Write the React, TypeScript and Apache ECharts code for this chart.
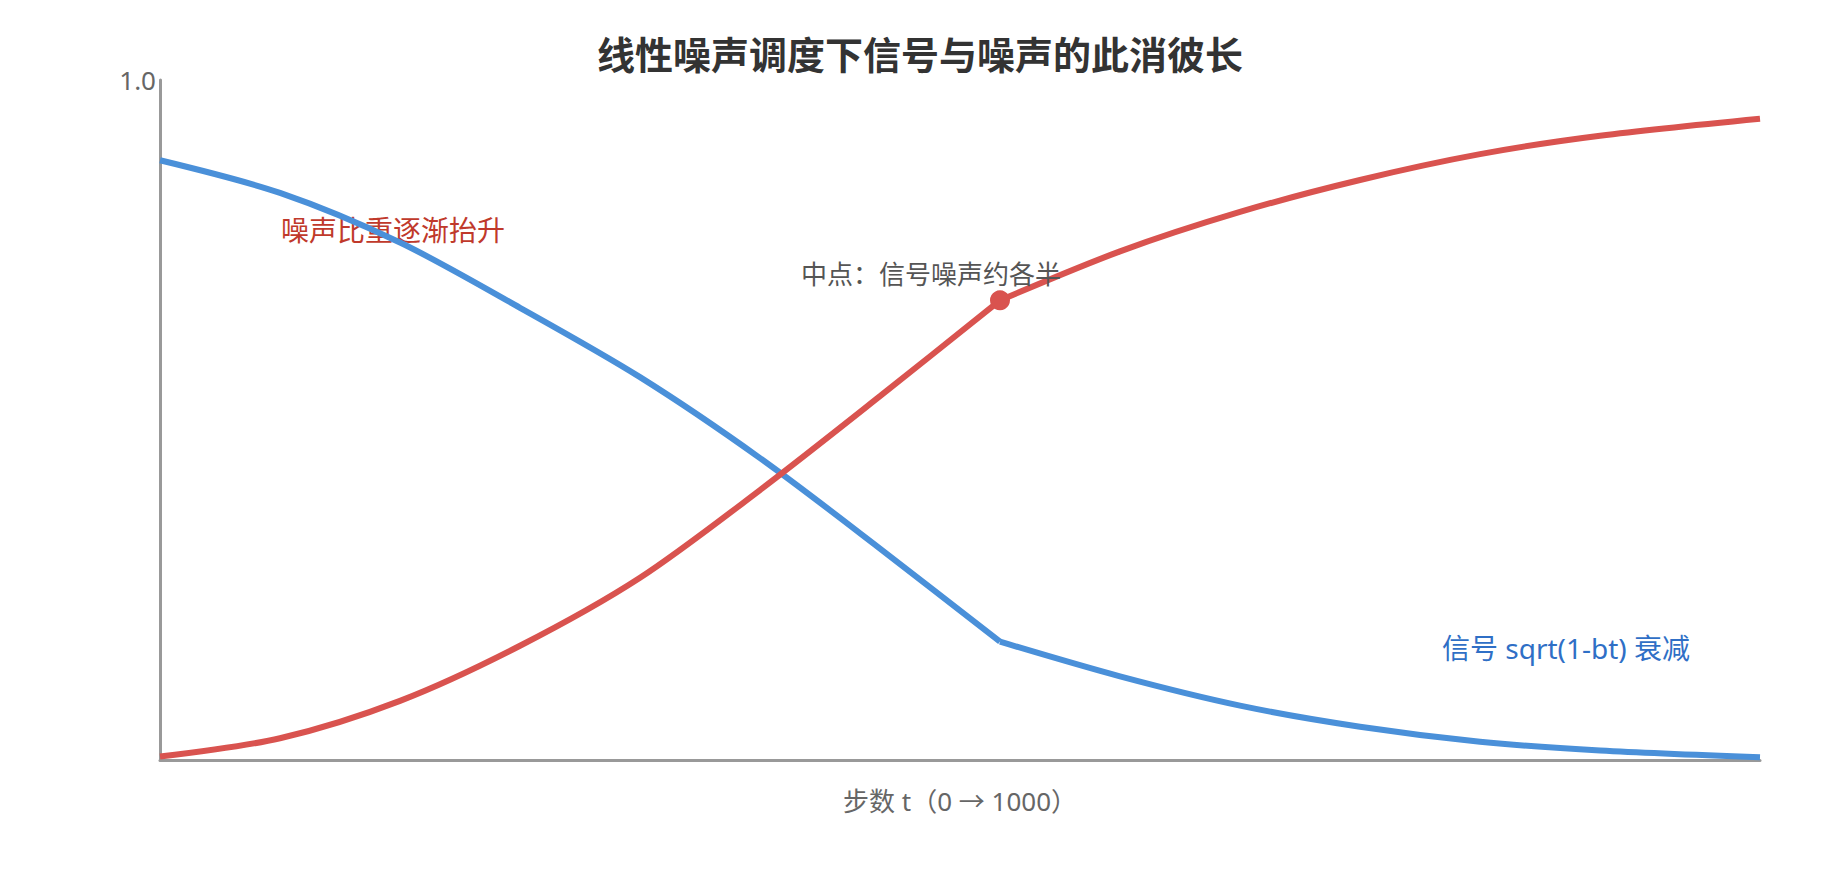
import React, { useEffect, useRef } from "react";
import * as echarts from "echarts";

const titleText = "线性噪声调度下信号与噪声的此消彼长";
const xAxisName = "步数 t（0 → 1000）";

const stepsFirstHalf = [0, 75, 150, 225, 300, 375, 450, 525];
const stepsSecondHalf = [525, 600, 675, 750, 825, 900, 1000];

const signalFirstHalf = [0.882, 0.834, 0.761, 0.665, 0.563, 0.444, 0.311, 0.174];
const signalSecondHalf = [0.174, 0.123, 0.08, 0.049, 0.027, 0.014, 0.004];

const noiseFirstHalf = [0.005, 0.032, 0.087, 0.168, 0.268, 0.397, 0.535, 0.676];
const noiseSecondHalf = [0.676, 0.748, 0.806, 0.853, 0.891, 0.918, 0.943];

const midStep = 525;
const midNoise = 0.676;
const midLabel = "中点：信号噪声约各半";
const noiseNote = "噪声比重逐渐抬升";
const signalNote = "信号 sqrt(1-bt) 衰减";

const BLUE = "#4a90d9";
const RED = "#d9534f";
const FONT = "'Noto Sans CJK SC', 'Noto Sans', sans-serif";
const FONT_LATIN = "'Noto Sans', 'Noto Sans CJK SC', sans-serif";

function pairs(xs: number[], ys: number[]) {
  return xs.map((x, i) => [x, ys[i]]);
}

export default function App() {
  const ref = useRef<HTMLDivElement>(null);
  useEffect(() => {
    document.body.style.margin = "0";
    if (!ref.current) return;
    const chart = echarts.init(ref.current, undefined, { renderer: "svg" });
    const lineBase = (color: string) => ({
      type: "line",
      smooth: 0.3,
      showSymbol: false,
      symbol: "none",
      lineStyle: { color, width: 6 },
      itemStyle: { color },
      silent: true,
    });
    chart.setOption({
      animation: false,
      textStyle: { fontFamily: FONT },
      title: {
        text: titleText,
        left: "center",
        top: 28,
        textStyle: { fontSize: 38, fontWeight: "bold", color: "#333", fontFamily: FONT },
      },
      grid: { left: 160, right: 80, top: 80, bottom: 120 },
      xAxis: {
        type: "value",
        min: 0,
        max: 1000,
        name: xAxisName,
        nameLocation: "middle",
        nameGap: 28,
        nameTextStyle: { fontSize: 26, color: "#666", fontFamily: FONT_LATIN },
        axisLine: { show: true, lineStyle: { color: "#999", width: 3 } },
        axisTick: { show: false },
        axisLabel: { show: false },
        splitLine: { show: false },
      },
      yAxis: {
        type: "value",
        min: 0,
        max: 1,
        interval: 1,
        axisLine: { show: true, lineStyle: { color: "#999", width: 3 } },
        axisTick: { show: false },
        axisLabel: {
          showMinLabel: false,
          margin: 4,
          fontSize: 26,
          color: "#666",
          fontFamily: FONT_LATIN,
          formatter: (v: number) => v.toFixed(1),
        },
        splitLine: { show: false },
      },
      series: [
        { ...lineBase(BLUE), name: "signal-a", data: pairs(stepsFirstHalf, signalFirstHalf) },
        { ...lineBase(BLUE), name: "signal-b", data: pairs(stepsSecondHalf, signalSecondHalf) },
        { ...lineBase(RED), name: "noise-a", data: pairs(stepsFirstHalf, noiseFirstHalf) },
        {
          ...lineBase(RED),
          name: "noise-b",
          data: pairs(stepsSecondHalf, noiseSecondHalf),
          markPoint: {
            silent: true,
            symbol: "circle",
            symbolSize: 20,
            itemStyle: { color: RED },
            label: {
              show: true,
              position: "inside",
              offset: [-69, -28],
              formatter: midLabel,
              fontSize: 26,
              color: "#555",
              fontFamily: FONT,
            },
            data: [{ coord: [midStep, midNoise] }],
          },
        },
      ],
      graphic: [
        {
          type: "text",
          left: 281,
          top: 215,
          silent: true,
          style: { text: noiseNote, fontSize: 28, fill: "#c0392b", fontFamily: FONT },
        },
        {
          type: "text",
          left: 1442,
          top: 634,
          silent: true,
          style: { text: signalNote, fontSize: 28, fill: "#2f6fc6", fontFamily: FONT_LATIN },
        },
      ],
    });
    return () => chart.dispose();
  }, []);
  return <div ref={ref} style={{ width: 1840, height: 880 }} />;
}
